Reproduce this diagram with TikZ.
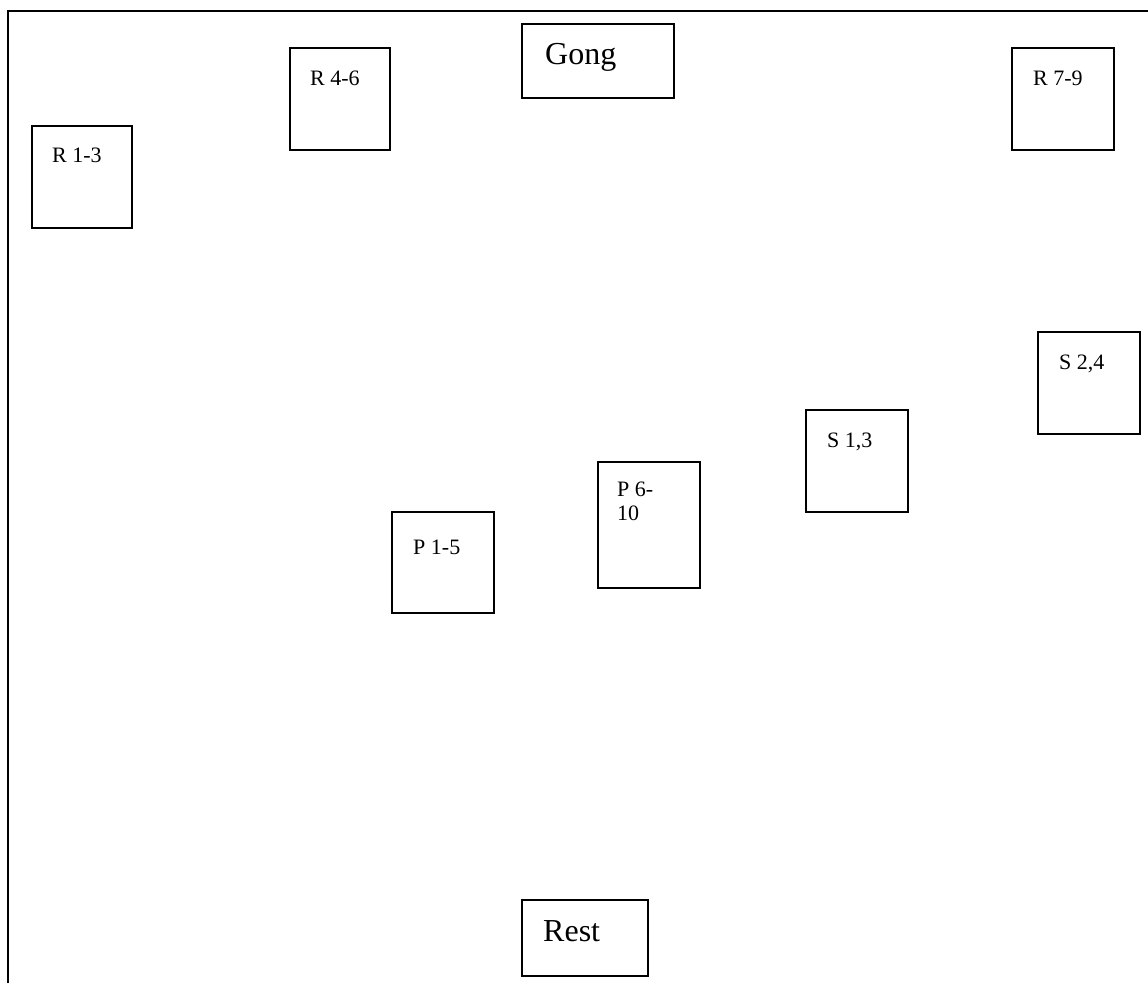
\documentclass[tikz,border=0pt]{standalone}
\usepackage{fontspec}
\setmainfont{Liberation Serif}
\begin{document}
\begin{tikzpicture}[x=1pt,y=-1pt,
  roombox/.style={draw,line width=2pt,anchor=north west,inner sep=0pt},
  smalltxt/.style={anchor=base west,inner sep=0pt,font=\fontsize{22}{26}\selectfont},
  bigtxt/.style={anchor=base west,inner sep=0pt,font=\fontsize{32}{36}\selectfont}]
\useasboundingbox (0,0) rectangle (1148,983);
% frame
\coordinate (fb) at (8,983);
\coordinate (fc) at (8,11);
\coordinate (fr) at (1148,11);
\draw[line width=1.8pt] (fb) -- (fc) -- (fr);
% boxes
\node[roombox,minimum width=100pt,minimum height=102pt] (r13) at (31,125) {};
\node[roombox,minimum width=100pt,minimum height=102pt] (r46) at (289,47) {};
\node[roombox,minimum width=152pt,minimum height=74pt] (gong) at (521,23) {};
\node[roombox,minimum width=102pt,minimum height=102pt] (r79) at (1011,47) {};
\node[roombox,minimum width=102pt,minimum height=102pt] (s24) at (1037,331) {};
\node[roombox,minimum width=102pt,minimum height=102pt] (s13) at (805,409) {};
\node[roombox,minimum width=102pt,minimum height=126pt] (p610) at (597,461) {};
\node[roombox,minimum width=102pt,minimum height=101pt] (p15) at (391,511) {};
\node[roombox,minimum width=126pt,minimum height=76pt] (rest) at (521,899) {};
% labels
\node[smalltxt] at ([xshift=21pt,yshift=-37pt]r13.north west) {R 1-3};
\node[smalltxt] at ([xshift=21pt,yshift=-38pt]r46.north west) {R 4-6};
\node[bigtxt] at ([xshift=24pt,yshift=-41pt]gong.north west) {Gong};
\node[smalltxt] at ([xshift=22pt,yshift=-38pt]r79.north west) {R 7-9};
\node[smalltxt] at ([xshift=22pt,yshift=-38pt]s24.north west) {S 2,4};
\node[smalltxt] at ([xshift=22pt,yshift=-38pt]s13.north west) {S 1,3};
\node[smalltxt] at ([xshift=20pt,yshift=-35pt]p610.north west) {P 6-};
\node[smalltxt] at ([xshift=20pt,yshift=-59pt]p610.north west) {10};
\node[smalltxt] at ([xshift=22pt,yshift=-43pt]p15.north west) {P 1-5};
\node[bigtxt] at ([xshift=22pt,yshift=-42pt]rest.north west) {Rest};
\end{tikzpicture}
\end{document}
